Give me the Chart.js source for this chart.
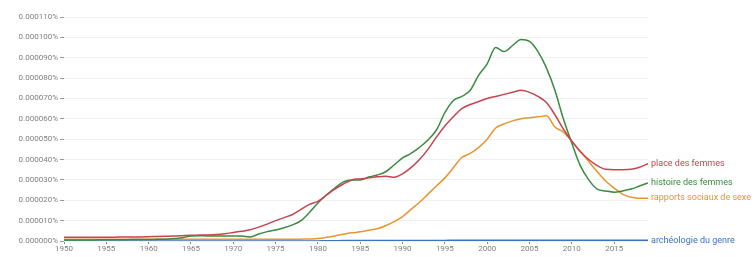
<!DOCTYPE html>
<html><head><meta charset="utf-8">
<script src="https://cdn.jsdelivr.net/npm/chart.js@4/dist/chart.umd.min.js"></script>
<style>html,body{margin:0;padding:0;background:#fff}#wrap{width:754px;height:257px}</style>
</head><body><div id="wrap"><canvas id="c" width="754" height="257"></canvas></div>
<script>
const years = [1950,1951,1952,1953,1954,1955,1956,1957,1958,1959,1960,1961,1962,1963,1964,1965,1966,1967,1968,1969,1970,1971,1972,1973,1974,1975,1976,1977,1978,1979,1980,1981,1982,1983,1984,1985,1986,1987,1988,1989,1990,1991,1992,1993,1994,1995,1996,1997,1998,1999,2000,2001,2002,2003,2004,2005,2006,2007,2008,2009,2010,2011,2012,2013,2014,2015,2016,2017,2018,2019];
// values in units of 0.000001 %
const placeFemmes = [1.8,1.8,1.8,1.8,1.9,1.9,1.9,2.0,2.0,2.0,2.1,2.2,2.3,2.4,2.6,2.8,2.9,3.0,3.2,3.6,4.2,4.8,5.5,6.8,8.3,10,11.5,13,15.5,18,19.5,22.5,25.5,28,30,30.5,31,31.5,31.8,31.3,33,36,40,45,51,56.5,61,65,67,68.5,70,71,72,73,74,73,71,68,62,55,49,44,40,37,35.2,35,35,35.2,36.2,38];
const histoireFemmes = [0.5,0.5,0.5,0.5,0.6,0.6,0.6,0.6,0.7,0.7,0.7,0.8,0.9,1.2,1.6,2.5,2.6,2.5,2.5,2.5,2.5,2.4,2.0,3.4,4.6,5.4,6.5,7.9,10,14,18.7,22.6,26,29,30,30,31.4,32.4,34,37.3,40.8,43,46,49.6,54.5,63,69,71,74,81.5,87,95,93,96,99,98,93,85,74,60,48,37,30,25.5,24.6,24,24.6,25.5,27,28.5];
const rapportsSociaux = [0.8,0.8,0.8,0.8,0.8,0.8,0.8,0.8,0.8,0.8,0.8,0.8,0.8,0.8,0.8,0.8,0.8,0.8,0.8,0.8,0.8,0.8,0.8,0.8,0.8,0.8,0.8,0.8,0.9,1.0,1.2,1.8,2.5,3.3,4,4.5,5.3,6,7.5,9.5,12,15.5,19,23,27,31,36,41,43,46,50,55.5,57.5,59,60,60.5,61,61.5,56,53.5,49,44,39,34,29.5,26,23,21.5,21,21];
const archeologieGenre = [0,0,0,0,0,0,0,0,0,0,0,0,0,0,0,0,0,0,0,0,0,0,0,0,0,0,0,0,0,0,0.05,0.1,0.15,0.2,0.2,0.2,0.25,0.25,0.25,0.3,0.3,0.3,0.3,0.3,0.3,0.3,0.35,0.35,0.35,0.35,0.4,0.4,0.4,0.4,0.4,0.4,0.4,0.4,0.4,0.4,0.4,0.4,0.35,0.35,0.35,0.35,0.35,0.35,0.35,0.35];
const yTicks = [0,10,20,30,40,50,60,70,80,90,100,110];
const xTicks = [1950,1955,1960,1965,1970,1975,1980,1985,1990,1995,2000,2005,2010,2015];

const series = [
  {label:'place des femmes', data:placeFemmes, color:'#c5444f'},
  {label:'histoire des femmes', data:histoireFemmes, color:'#3a8a3f'},
  {label:'rapports sociaux de sexe', data:rapportsSociaux, color:'#e8952f'},
  {label:'archéologie du genre', data:archeologieGenre, color:'#3c72be'}
];

function fmt(v){ return (v/1e6).toFixed(6) + '%'; }

const endLabels = {
  id:'endLabels',
  afterDatasetsDraw(chart){
    const ctx = chart.ctx;
    ctx.save();
    ctx.font = '9px Roboto, "Open Sans", sans-serif';
    ctx.textBaseline = 'middle';
    ctx.textAlign = 'left';
    chart.data.datasets.forEach((ds,i)=>{
      const meta = chart.getDatasetMeta(i);
      const pt = meta.data[meta.data.length-1];
      ctx.fillStyle = ds.borderColor;
      ctx.fillText(ds.label, pt.x + 3, pt.y);
    });
    ctx.restore();
  }
};

new Chart(document.getElementById('c'), {
  type:'line',
  data:{
    datasets: series.map(s=>({
      label:s.label,
      data:years.map((y,i)=>({x:y,y:s.data[i]})),
      borderColor:s.color,
      backgroundColor:s.color,
      borderWidth:1.5,
      pointRadius:0,
      cubicInterpolationMode:'monotone',
      fill:false
    }))
  },
  options:{
    responsive:false,
    animation:false,
    devicePixelRatio:1,
    layout:{padding:{left:0,right:106,top:17,bottom:0}},
    plugins:{legend:{display:false},tooltip:{enabled:false}},
    scales:{
      x:{
        type:'linear', min:1950, max:2019,
        afterBuildTicks(scale){ scale.ticks = xTicks.map(v=>({value:v})); },
        afterFit(scale){ scale.height = 16; },
        grid:{display:true, drawOnChartArea:false, tickLength:3, color:'#888', tickColor:'#888'},
        border:{display:false},
        ticks:{color:'#808080', font:{size:8, family:'Roboto, "Open Sans", sans-serif'}, padding:0, maxRotation:0, autoSkip:false, callback:v=>String(v)}
      },
      y:{
        min:0, max:110,
        afterBuildTicks(scale){ scale.ticks = yTicks.map(v=>({value:v})); },
        afterFit(scale){ scale.width = 64; },
        grid:{color:'#f1f1f1', tickColor:'#999', tickLength:4, lineWidth:1},
        border:{display:false},
        ticks:{color:'#808080', font:{size:8, family:'Roboto, "Open Sans", sans-serif'}, padding:2, callback:v=>fmt(v)}
      }
    }
  },
  plugins:[endLabels]
});
</script>
</body></html>
